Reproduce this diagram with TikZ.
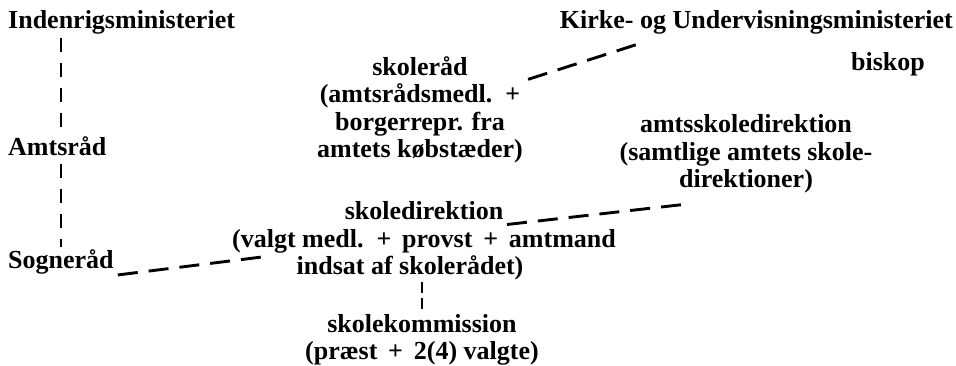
\documentclass[tikz,border=0pt]{standalone}
\usepackage{fontspec}
\setmainfont{Liberation Serif}

\tikzset{
	every node/.style={inner sep=0pt, font=\fontsize{26}{27.5}\selectfont\bfseries},
	link/.style={line width=2.9pt, dash pattern=on 20pt off 11pt},
	vlink/.style={line width=2.6pt, dash pattern=on 14pt off 11pt}
}

\begin{document}
\begin{tikzpicture}[x=1pt, y=-1pt]
	\useasboundingbox (0,0) rectangle (956,366);

	\node[anchor=base west] (ind) at (8,29) {Indenrigsministeriet};
	\node[anchor=base west] (amt) at (8,156) {Amtsråd};
	\node[anchor=base west] (sogn) at (8,269) {Sogneråd};

	\node[anchor=base east] (kum) at (953,29) {Kirke- og Undervisningsministeriet};
	\node[anchor=base east] (bisk) at (925,71) {biskop};

	\node[align=center] (skr) at (420,110) {skoleråd\\(amtsrådsmedl.\, +\\borgerrepr. fra\\amtets købstæder)};
	\node[align=center] (asd) at (746,154) {amtsskoledirektion\\(samtlige amtets skole-\\direktioner)};
	\node[align=center] (skd) at (424,241) {skoledirektion\\(valgt medl.\, + \,provst\, + \,amtmand\\indsat af skolerådet)\hspace*{28pt}};
	\node[align=center] (skk) at (422,340) {skolekommission\\(præst\, + \,2(4) valgte)};

	\draw [link]
		([xshift=53pt]ind.south west) edge[vlink, shorten <=3pt] ([xshift=53pt]amt.north west)
		([xshift=53pt]amt.south west) edge[vlink, shorten <=8pt, shorten >=3pt] ([xshift=53pt]sogn.north west)

		([xshift=4pt]sogn.south east) edge ([shift={(30,16)}]skd.west)
		([shift={(5,23)}]skr.north east) edge ([shift={(85,7)}]kum.south west)
		([shift={(83,23)}]skd.north) edge ([shift={(64,11)}]asd.south west)

		(skd.south -| skk.north) edge[vlink, dash pattern=on 11pt off 5pt, shorten <=2pt, shorten >=5pt] (skk.north)
		;
\end{tikzpicture}
\end{document}
